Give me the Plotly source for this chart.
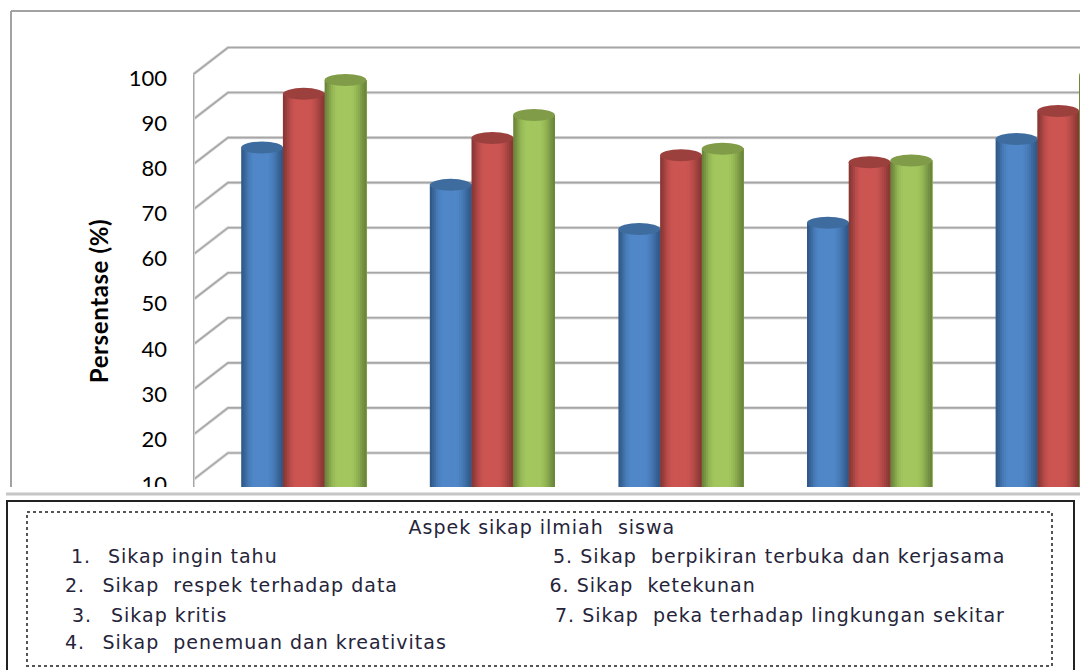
import plotly.graph_objects as go

categories = [1, 2, 3, 4, 5]
series_names = ["Series 1", "Series 2", "Series 3"]
values_blue = [83.8, 75.5, 65.7, 67.1, 85.7]
values_red = [95.7, 85.9, 82.1, 80.5, 91.9]
values_green = [98.8, 91.0, 83.5, 80.9, 99.9]
tick_values = [10, 20, 30, 40, 50, 60, 70, 80, 90, 100]

W, H = 1080, 670
PLOT_L = 193
PX_PER_CAT = 188.6
PX_PER_UNIT = 4.505
BAR_PX = 41.7
CENTER_PX = 241.2 + 1.5 * BAR_PX
X0 = 1 - (CENTER_PX - PLOT_L) / PX_PER_CAT
X1 = 1 + (W - CENTER_PX) / PX_PER_CAT
Y1 = 100 + 74.5 / PX_PER_UNIT
Y0 = 100 - (H - 74.5) / PX_PER_UNIT
BAR_W = BAR_PX / PX_PER_CAT
DEPTH_X = 35 / PX_PER_CAT
DEPTH_Y = 27 / PX_PER_UNIT
CAP_H = 6 / PX_PER_UNIT
LETTER_PX = 1.0


def px(x):
    return (x - PLOT_L) / (W - PLOT_L)


def py(y):
    return 1 - y / H


def mix(a, b, t):
    ca = [int(a[i:i + 2], 16) for i in (1, 3, 5)]
    cb = [int(b[i:i + 2], 16) for i in (1, 3, 5)]
    return "#%02x%02x%02x" % tuple(round(p + (q - p) * t) for p, q in zip(ca, cb))


palette = [
    dict(values=values_blue, edge="#315a8a", mid="#5087c8", cap="#3f6c9f"),
    dict(values=values_red, edge="#8a3836", mid="#cc5552", cap="#9c403e"),
    dict(values=values_green, edge="#6c873c", mid="#a3c75e", cap="#809c48"),
]

# brightness across a cylinder, left to right
profile = [0.0, 0.2, 0.45, 0.7, 0.85, 0.95, 1, 1, 1, 1, 1, 1, 1, 0.95, 0.85, 0.72, 0.55, 0.35, 0.15, 0.0]
N = len(profile)

fig = go.Figure()
shapes = []

# back wall grid, drawn beneath the bars
grid_x = [X0, X0 + DEPTH_X, X1]
for v in tick_values:
    for width, color in ((3.2, "#dcdcdc"), (1.6, "#a6a6a6")):
        path = f"M {grid_x[0]},{v} L {grid_x[1]},{v + DEPTH_Y} L {grid_x[2]},{v + DEPTH_Y}"
        shapes.append(dict(type="path", path=path, xref="x", yref="y", layer="below",
                           line=dict(color=color, width=width)))
for width, color in ((3.2, "#dcdcdc"), (1.6, "#a6a6a6")):
    shapes.append(dict(type="line", x0=X0 + 0.002, x1=X0 + 0.002, y0=100, y1=Y0, xref="x", yref="y",
                       layer="below", line=dict(color=color, width=width)))

# cylinders: each series is painted as overlapping bars, each starting further right
for s, spec in enumerate(palette):
    left = (s - 1.5) * BAR_W
    strip = BAR_W / N
    for i, b in enumerate(profile):
        fig.add_trace(go.Bar(
            x=categories, y=spec["values"], name=series_names[s],
            width=BAR_W - i * strip, offset=left + i * strip,
            marker=dict(color=mix(spec["edge"], spec["mid"], b), line=dict(width=0)),
            showlegend=False, hoverinfo="skip",
        ))
    for c, v in zip(categories, spec["values"]):
        shapes.append(dict(type="circle", xref="x", yref="y", layer="above",
                           x0=c + left, x1=c + left + BAR_W, y0=v - CAP_H, y1=v + CAP_H,
                           fillcolor=spec["cap"], line=dict(width=0)))

# outer chart frame
shapes.append(dict(type="line", xref="paper", yref="paper", x0=px(11), x1=px(1080), y0=py(11), y1=py(11),
                   line=dict(color="#a2a2a2", width=2)))
shapes.append(dict(type="line", xref="paper", yref="paper", x0=px(11), x1=px(11), y0=py(11), y1=py(487),
                   line=dict(color="#a2a2a2", width=2)))
# cover below the chart
shapes.append(dict(type="rect", xref="paper", yref="paper", x0=px(0), x1=px(1080), y0=py(487), y1=py(670),
                   fillcolor="white", line=dict(width=0)))
shapes.append(dict(type="line", xref="paper", yref="paper", x0=px(6), x1=px(1080), y0=py(494), y1=py(494),
                   line=dict(color="#c6c6c6", width=3)))
# legend boxes
shapes.append(dict(type="rect", xref="paper", yref="paper", x0=px(7), x1=px(1074), y0=py(501), y1=py(680),
                   line=dict(color="#222222", width=2), fillcolor="white"))
shapes.append(dict(type="rect", xref="paper", yref="paper", x0=px(27), x1=px(1052), y0=py(512), y1=py(666),
                   line=dict(color="#555555", width=2, dash="dot")))

legend_title = "Aspek sikap ilmiah  siswa"
legend_numbers = ["1.", "2.", "3.", "4."]
legend_left = ["Sikap ingin tahu", "Sikap  respek terhadap data", "Sikap kritis", "Sikap  penemuan dan kreativitas"]
legend_right = ["5. Sikap  berpikiran terbuka dan kerjasama", "6. Sikap  ketekunan",
                "7. Sikap  peka terhadap lingkungan sekitar"]

LEG_FONT = dict(family="DejaVu Sans", size=19, color="#26243a")


def note(text, x, y):
    # letter spacing grows the text both ways about its centre, so move it by half the growth
    return dict(text=text, x=px(x + len(text) * LETTER_PX / 2), y=py(y), xref="paper", yref="paper",
                xanchor="left", yanchor="middle", showarrow=False, font=LEG_FONT)


notes = [note(legend_title, 406, 527)]
for t, nx, y in zip(legend_numbers, [69, 63, 70, 63], [556, 585, 615, 642]):
    notes.append(note(t, nx, y))
for t, tx, y in zip(legend_left, [106, 100, 109, 100], [556, 585, 615, 642]):
    notes.append(note(t, tx, y))
for t, x, y in zip(legend_right, [551, 547, 553], [556, 585, 615]):
    notes.append(note(t, x, y))
notes.append(dict(text="<b>Persentase (%)</b>", x=px(98), y=py(301), xref="paper", yref="paper",
                  xanchor="center", yanchor="middle", showarrow=False, textangle=-90,
                  font=dict(family="Lato", size=24, color="black")))

fig.update_layout(
    width=W, height=H, margin=dict(l=PLOT_L, r=0, t=0, b=0),
    paper_bgcolor="white", plot_bgcolor="rgba(0,0,0,0)",
    barmode="overlay", showlegend=False, shapes=shapes, annotations=notes,
    xaxis=dict(range=[X0, X1], showgrid=False, zeroline=False, showticklabels=False, ticks="", fixedrange=True),
    yaxis=dict(range=[Y0, Y1], tickmode="array", tickvals=tick_values, showgrid=False, zeroline=False,
               ticks="", ticklabelstandoff=25, ticklabelshift=4,
               tickfont=dict(family="Lato", size=22, color="black"),
               automargin=False, fixedrange=True),
)

spacing_js = """
document.body.style.margin='0';document.body.style.overflow='hidden';
document.querySelectorAll('.annotation-text').forEach(function(t){
  t.style.letterSpacing = t.textContent.indexOf('Persentase') === 0 ? '0.6px' : '%spx';
});
""" % LETTER_PX
fig.write_html("out.html", config=dict(displayModeBar=False), post_script=spacing_js)
